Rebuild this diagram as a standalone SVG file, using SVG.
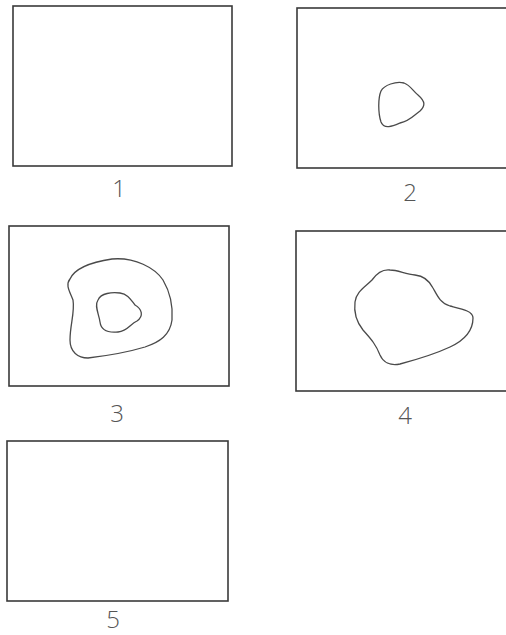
<svg xmlns="http://www.w3.org/2000/svg" width="506" height="635" viewBox="0 0 506 635">
<style>
.frame{fill:none;stroke:#3a3a3a;stroke-width:1.6}
.blob{fill:none;stroke:#4a4a4a;stroke-width:1.3}
.lbl{font-family:"Open Sans","Liberation Sans",sans-serif;font-weight:300;font-size:24px;fill:#555;text-anchor:middle}
</style>
<rect width="506" height="635" fill="#fff"/>
<g id="panel1">
<rect class="frame" x="13" y="6" width="219" height="160"/>
<text class="lbl" x="119" y="197">1</text>
</g>
<g id="panel2">
<rect class="frame" x="297" y="8" width="215" height="160"/>
<path class="blob" d="M381,91 C384,85 396,81 404,83 C410,85 413,91 418,95 C426,102 425,106 420,111 C413,116 410,121 400,123 C393,126 384,130 381,122 C378,113 378,98 381,91 Z"/>
<text class="lbl" x="410" y="201">2</text>
</g>
<g id="panel3">
<rect class="frame" x="9" y="226" width="220" height="160"/>
<path class="blob" d="M70,279 C75,268 92,262 112,259 C135,257 155,268 163,280 C170,292 173,307 172,320 C170,335 160,342 145,347 C125,353 105,356 88,358 C78,358 70,352 70,340 C70,325 75,312 73,300 C70,292 65,285 70,279 Z"/>
<path class="blob" d="M98,300 C101,293 112,292 120,293 C128,294 131,300 135,305 C142,309 144,316 137,321 C130,324 128,331 118,332 C108,333 101,330 100,322 C99,314 94,306 98,300 Z"/>
<text class="lbl" x="117" y="422">3</text>
</g>
<g id="panel4">
<rect class="frame" x="296" y="231" width="216" height="160"/>
<path class="blob" d="M372,280 C377,273 382,269 390,270 C398,270 405,274 415,275 C425,276 430,282 433,288 C437,295 440,303 450,306 C462,309 473,311 473,318 C473,330 465,340 450,347 C435,354 415,360 400,364 C390,366 383,362 380,355 C376,345 372,340 363,330 C355,320 354,310 355,302 C356,292 365,287 372,280 Z"/>
<text class="lbl" x="405" y="424">4</text>
</g>
<g id="panel5">
<rect class="frame" x="7" y="441" width="221" height="160"/>
<text class="lbl" x="113" y="628">5</text>
</g>
<g id="connectors"></g>
</svg>
